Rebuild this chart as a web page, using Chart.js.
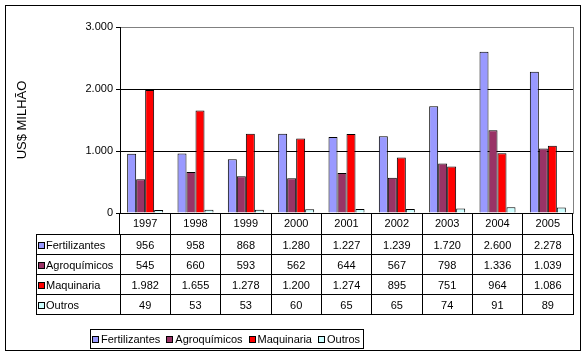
<!DOCTYPE html>
<html><head><meta charset="utf-8">
<script src="https://cdn.jsdelivr.net/npm/chart.js@4/dist/chart.umd.min.js"></script>
<style>
html,body{margin:0;padding:0;background:#fff;}
#wrap{position:relative;width:586px;height:355px;font-family:"Liberation Sans",Arial,sans-serif;font-size:11px;color:#000;overflow:hidden;}
canvas{position:absolute;left:0;top:0;}
#frame{position:absolute;left:5px;top:5px;width:576px;height:346px;border:1px solid #000;box-sizing:border-box;pointer-events:none;}
.cell{position:absolute;height:20px;line-height:20px;text-align:center;white-space:nowrap;}
.lab{text-align:left;padding-left:1px;}
.mk{display:inline-block;width:5px;height:5px;border:1px solid #000;vertical-align:middle;margin-right:1px;position:relative;top:-1px;}
#legend{position:absolute;left:90px;top:329px;width:274px;height:20px;border:1px solid #000;box-sizing:border-box;display:flex;align-items:center;padding-left:1px;white-space:nowrap;}
#legend .it{margin-right:6px;display:flex;align-items:center;}
#legend .mk{top:0;margin-right:2px;}
</style></head>
<body><div id="wrap"><canvas id="c" width="586" height="355"></canvas><div id="frame"></div><div id="table"></div><div id="legend"></div></div>
<script>
const categories = ['1997','1998','1999','2000','2001','2002','2003','2004','2005'];
const seriesNames = ['Fertilizantes','Agroquímicos','Maquinaria','Outros'];
const fertilizantes = [956,958,868,1280,1227,1239,1720,2600,2278];
const agroquimicos = [545,660,593,562,644,567,798,1336,1039];
const maquinaria = [1982,1655,1278,1200,1274,895,751,964,1086];
const outros = [49,53,53,60,65,65,74,91,89];
const seriesColors = ['#9999FF','#993366','#FF0000','#CCFFFF'];
const yTickValues = [0,1000,2000,3000];
const yTitle = 'US$ MILHÃO';

const seriesValues = [fertilizantes, agroquimicos, maquinaria, outros];
const fmt = v => String(v).replace(/\B(?=(\d{3})+(?!\d))/g, '.');

Chart.defaults.font.family = "'Liberation Sans', Arial, sans-serif";
Chart.defaults.font.size = 11;
Chart.defaults.color = '#000';

const TABLE_LEFT = 36, HEADER_H = 21, ROW_H = 20;
const align = p => Math.round(p - 0.5) + 0.5;
let built = false;

const tablePlugin = {
  id: 'dataTable',
  afterDraw(chart) {
    const ctx = chart.ctx;
    const xs = chart.scales.x;
    const n = categories.length;
    const w = xs.width / n;
    const bounds = [];
    for (let i = 0; i <= n; i++) bounds.push(xs.left + i * w);
    const top = chart.chartArea.bottom + HEADER_H;
    const bottom = top + ROW_H * seriesNames.length;
    ctx.save();
    ctx.strokeStyle = '#000';
    ctx.lineWidth = 1;
    ctx.beginPath();
    for (let r = 0; r <= seriesNames.length; r++) {
      const y = align(top + r * ROW_H);
      ctx.moveTo(TABLE_LEFT, y); ctx.lineTo(xs.right + 1, y);
    }
    ctx.moveTo(align(TABLE_LEFT), top); ctx.lineTo(align(TABLE_LEFT), bottom);
    bounds.forEach(b => { ctx.moveTo(align(b), top); ctx.lineTo(align(b), bottom); });
    ctx.stroke();
    ctx.restore();

    if (built) return;
    built = true;
    const t = document.getElementById('table');
    let html = '';
    seriesNames.forEach((name, r) => {
      const y = top + r * ROW_H + 1;
      html += `<div class="cell lab" style="left:${TABLE_LEFT + 1}px;top:${y}px;width:${bounds[0] - TABLE_LEFT - 2}px"><span class="mk" style="background:${seriesColors[r]}"></span>${name}</div>`;
      seriesValues[r].forEach((v, c) => {
        html += `<div class="cell" style="left:${bounds[c]}px;top:${y}px;width:${w}px">${fmt(v)}</div>`;
      });
    });
    t.innerHTML = html;
    const lg = document.getElementById('legend');
    lg.innerHTML = seriesNames.map((name, i) =>
      `<span class="it"><span class="mk" style="background:${seriesColors[i]}"></span>${name}</span>`).join('');
  }
};

new Chart(document.getElementById('c'), {
  type: 'bar',
  data: {
    labels: categories,
    datasets: seriesNames.map((name, i) => ({
      label: name,
      data: seriesValues[i],
      backgroundColor: seriesColors[i],
      borderColor: '#000',
      borderWidth: 1,
      borderSkipped: 'start',
      categoryPercentage: 0.715,
      barPercentage: 1
    }))
  },
  options: {
    responsive: false,
    animation: false,
    events: [],
    layout: { padding: { left: 7, right: 13, top: 27, bottom: 121 } },
    plugins: { legend: { display: false }, tooltip: { enabled: false } },
    scales: {
      x: {
        offset: true,
        grid: { offset: true, drawOnChartArea: false, drawTicks: true, tickLength: 21, color: '#000' },
        border: { color: '#000' },
        ticks: { padding: -17, color: '#000', maxRotation: 0, autoSkip: false },
        afterFit: s => { s.height = HEADER_H; }
      },
      y: {
        min: 0, max: 3000,
        afterBuildTicks: s => { s.ticks = yTickValues.map(v => ({ value: v })); },
        ticks: { padding: 3, color: '#000', callback: v => fmt(v) },
        grid: {
          color: c => (c.tick && c.tick.value === yTickValues[yTickValues.length - 1]) ? '#808080' : '#000',
          tickColor: '#000', tickLength: 4
        },
        border: { color: '#000' },
        title: { display: true, text: yTitle, color: '#000', font: { size: 13 }, padding: { top: 8, bottom: 0 } },
        afterFit: s => { s.width = 113; }
      },
      y2: {
        position: 'right',
        display: true,
        ticks: { display: false },
        grid: { display: false },
        border: { color: '#808080' },
        afterFit: s => { s.width = 0; }
      }
    }
  },
  plugins: [tablePlugin]
});
</script>
</body></html>
